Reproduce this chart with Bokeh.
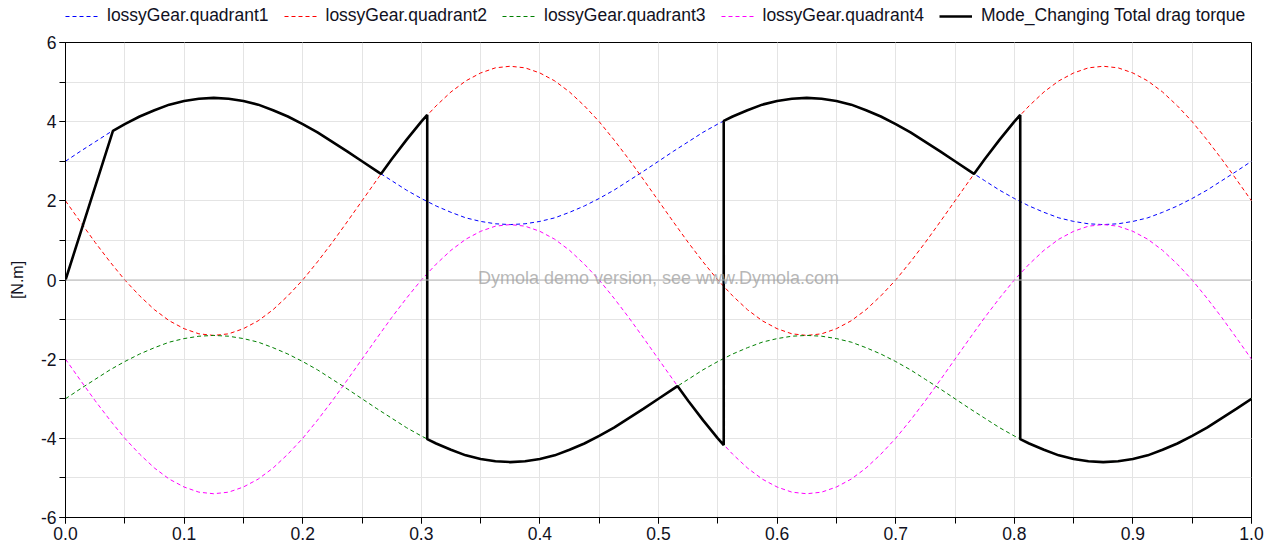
from bokeh.plotting import figure
from bokeh.layouts import column
from bokeh.models import (Range1d, SingleIntervalTicker, PrintfTickFormatter, Legend,
                          LegendItem, Span, Label)
from bokeh.embed import file_html
from bokeh.resources import INLINE

t = [0.0, 0.0125, 0.025, 0.0375, 0.05, 0.0625, 0.075, 0.0875, 0.1, 0.1125,
     0.125, 0.1375, 0.15, 0.1625, 0.175, 0.1875, 0.2, 0.2125, 0.225, 0.2375,
     0.25, 0.2625, 0.275, 0.2875, 0.3, 0.3125, 0.325, 0.3375, 0.35, 0.3625,
     0.375, 0.3875, 0.4, 0.4125, 0.425, 0.4375, 0.45, 0.4625, 0.475, 0.4875,
     0.5, 0.5125, 0.525, 0.5375, 0.55, 0.5625, 0.575, 0.5875, 0.6, 0.6125,
     0.625, 0.6375, 0.65, 0.6625, 0.675, 0.6875, 0.7, 0.7125, 0.725, 0.7375,
     0.75, 0.7625, 0.775, 0.7875, 0.8, 0.8125, 0.825, 0.8375, 0.85, 0.8625,
     0.875, 0.8875, 0.9, 0.9125, 0.925, 0.9375, 0.95, 0.9625, 0.975, 0.9875, 1.0]

quadrant1 = [3.00, 3.25, 3.49, 3.73, 3.94, 4.13, 4.29, 4.43, 4.52, 4.58,
             4.60, 4.58, 4.52, 4.43, 4.29, 4.13, 3.94, 3.73, 3.49, 3.25,
             3.00, 2.75, 2.51, 2.27, 2.06, 1.87, 1.71, 1.57, 1.48, 1.42,
             1.40, 1.42, 1.48, 1.57, 1.71, 1.87, 2.06, 2.27, 2.51, 2.75,
             3.00, 3.25, 3.49, 3.73, 3.94, 4.13, 4.29, 4.43, 4.52, 4.58,
             4.60, 4.58, 4.52, 4.43, 4.29, 4.13, 3.94, 3.73, 3.49, 3.25,
             3.00, 2.75, 2.51, 2.27, 2.06, 1.87, 1.71, 1.57, 1.48, 1.42,
             1.40, 1.42, 1.48, 1.57, 1.71, 1.87, 2.06, 2.27, 2.51, 2.75, 3.00]

quadrant2 = [2.00, 1.47, 0.95, 0.46, 0.00, -0.40, -0.75, -1.03, -1.23, -1.36,
             -1.40, -1.36, -1.23, -1.03, -0.75, -0.40, 0.00, 0.46, 0.95, 1.47,
             2.00, 2.53, 3.05, 3.54, 4.00, 4.40, 4.75, 5.03, 5.23, 5.36,
             5.40, 5.36, 5.23, 5.03, 4.75, 4.40, 4.00, 3.54, 3.05, 2.53,
             2.00, 1.47, 0.95, 0.46, 0.00, -0.40, -0.75, -1.03, -1.23, -1.36,
             -1.40, -1.36, -1.23, -1.03, -0.75, -0.40, 0.00, 0.46, 0.95, 1.47,
             2.00, 2.53, 3.05, 3.54, 4.00, 4.40, 4.75, 5.03, 5.23, 5.36,
             5.40, 5.36, 5.23, 5.03, 4.75, 4.40, 4.00, 3.54, 3.05, 2.53, 2.00]

quadrant3 = [-3.00, -2.75, -2.51, -2.27, -2.06, -1.87, -1.71, -1.57, -1.48, -1.42,
             -1.40, -1.42, -1.48, -1.57, -1.71, -1.87, -2.06, -2.27, -2.51, -2.75,
             -3.00, -3.25, -3.49, -3.73, -3.94, -4.13, -4.29, -4.43, -4.52, -4.58,
             -4.60, -4.58, -4.52, -4.43, -4.29, -4.13, -3.94, -3.73, -3.49, -3.25,
             -3.00, -2.75, -2.51, -2.27, -2.06, -1.87, -1.71, -1.57, -1.48, -1.42,
             -1.40, -1.42, -1.48, -1.57, -1.71, -1.87, -2.06, -2.27, -2.51, -2.75,
             -3.00, -3.25, -3.49, -3.73, -3.94, -4.13, -4.29, -4.43, -4.52, -4.58,
             -4.60, -4.58, -4.52, -4.43, -4.29, -4.13, -3.94, -3.73, -3.49, -3.25, -3.00]

quadrant4 = [-2.00, -2.53, -3.05, -3.54, -4.00, -4.40, -4.75, -5.03, -5.23, -5.36,
             -5.40, -5.36, -5.23, -5.03, -4.75, -4.40, -4.00, -3.54, -3.05, -2.53,
             -2.00, -1.47, -0.95, -0.46, 0.00, 0.40, 0.75, 1.03, 1.23, 1.36,
             1.40, 1.36, 1.23, 1.03, 0.75, 0.40, 0.00, -0.46, -0.95, -1.47,
             -2.00, -2.53, -3.05, -3.54, -4.00, -4.40, -4.75, -5.03, -5.23, -5.36,
             -5.40, -5.36, -5.23, -5.03, -4.75, -4.40, -4.00, -3.54, -3.05, -2.53,
             -2.00, -1.47, -0.95, -0.46, 0.00, 0.40, 0.75, 1.03, 1.23, 1.36,
             1.40, 1.36, 1.23, 1.03, 0.75, 0.40, 0.00, -0.46, -0.95, -1.47, -2.00]

total_t = [0.0, 0.04, 0.05, 0.0625, 0.075, 0.0875, 0.1, 0.1125, 0.125, 0.1375,
           0.15, 0.1625, 0.175, 0.1875, 0.2, 0.2125, 0.225, 0.2375, 0.25, 0.2625,
           0.266, 0.275, 0.2875, 0.3, 0.305, 0.305, 0.3125, 0.325, 0.3375, 0.35,
           0.3625, 0.375, 0.3875, 0.4, 0.4125, 0.425, 0.4375, 0.45, 0.4625, 0.475,
           0.4875, 0.5, 0.5125, 0.516, 0.525, 0.5375, 0.55, 0.555, 0.555, 0.5625,
           0.575, 0.5875, 0.6, 0.6125, 0.625, 0.6375, 0.65, 0.6625, 0.675, 0.6875,
           0.7, 0.7125, 0.725, 0.7375, 0.75, 0.7625, 0.766, 0.775, 0.7875, 0.8,
           0.805, 0.805, 0.8125, 0.825, 0.8375, 0.85, 0.8625, 0.875, 0.8875, 0.9,
           0.9125, 0.925, 0.9375, 0.95, 0.9625, 0.975, 0.9875, 1.0]
total_torque = [0.00, 3.77, 3.94, 4.13, 4.29, 4.43, 4.52, 4.58, 4.60, 4.58,
                4.52, 4.43, 4.29, 4.13, 3.94, 3.73, 3.49, 3.25, 3.00, 2.75,
                2.68, 3.05, 3.54, 4.00, 4.17, -4.02, -4.13, -4.29, -4.43, -4.52,
                -4.58, -4.60, -4.58, -4.52, -4.43, -4.29, -4.13, -3.94, -3.73, -3.49,
                -3.25, -3.00, -2.75, -2.68, -3.05, -3.54, -4.00, -4.17, 4.02, 4.13,
                4.29, 4.43, 4.52, 4.58, 4.60, 4.58, 4.52, 4.43, 4.29, 4.13,
                3.94, 3.73, 3.49, 3.25, 3.00, 2.75, 2.68, 3.05, 3.54, 4.00,
                4.17, -4.02, -4.13, -4.29, -4.43, -4.52, -4.58, -4.60, -4.58, -4.52,
                -4.43, -4.29, -4.13, -3.94, -3.73, -3.49, -3.25, -3.00]

series_labels = ["lossyGear.quadrant1", "lossyGear.quadrant2", "lossyGear.quadrant3",
                 "lossyGear.quadrant4", "Mode_Changing Total drag torque"]
series_colors = ["#0000ff", "#ff0000", "#008000", "#ff00ff", "black"]
y_label = "[N.m]"
watermark = "Dymola demo version, see www.Dymola.com"

FONT = "Liberation Sans"
FRAME_H = 475
LEFT = 65
RIGHT = 14
FRAME_W = 1186
LEG_H = 34
BLACK_W = 2.6

# ---------- main chart ----------
p = figure(frame_width=FRAME_W, frame_height=FRAME_H, output_backend="svg",
           toolbar_location=None, x_range=Range1d(0, 1), y_range=Range1d(-6, 6),
           min_border_left=LEFT, min_border_top=8, min_border_right=RIGHT,
           min_border_bottom=28, background_fill_color="white",
           border_fill_color="white")

p.outline_line_color = "black"
p.outline_line_width = 1

p.xaxis.ticker = SingleIntervalTicker(interval=0.1, num_minor_ticks=2)
p.yaxis.ticker = SingleIntervalTicker(interval=2, num_minor_ticks=2)
p.xaxis.formatter = PrintfTickFormatter(format="%.1f")
p.yaxis.formatter = PrintfTickFormatter(format="%d")

for ax in (p.xaxis, p.yaxis):
    ax.axis_line_color = "black"
    ax.major_tick_line_color = "black"
    ax.minor_tick_line_color = "black"
    ax.major_tick_in = 0
    ax.minor_tick_in = 0
    ax.major_tick_out = 6
    ax.minor_tick_out = 6
    ax.major_label_text_font = FONT
    ax.major_label_text_font_size = "17.5px"
    ax.major_label_text_color = "#111122"
    ax.major_label_standoff = 3

p.yaxis.axis_label = y_label
p.yaxis.axis_label_text_font = FONT
p.yaxis.axis_label_text_font_size = "16px"
p.yaxis.axis_label_text_font_style = "normal"
p.yaxis.axis_label_text_color = "#111122"
p.yaxis.axis_label_standoff = 12

for g in (p.xgrid, p.ygrid):
    g.grid_line_color = "#e4e4e4"
    g.minor_grid_line_color = "#e4e4e4"
    g.grid_line_width = 1
    g.minor_grid_line_width = 1

p.add_layout(Span(location=0, dimension="width", line_color="#b8b8b8", line_width=1.2))

p.add_layout(Label(x=0.5, y=0.05, text=watermark, text_align="center",
                   text_baseline="middle", text_font=FONT, text_font_size="18px",
                   text_color="#a0a0a0", text_alpha=0.75))

series_y = [quadrant1, quadrant2, quadrant3, quadrant4]
for ys, c in zip(series_y, series_colors[:4]):
    p.line(t, ys, line_color=c, line_width=1, line_dash="4 3")
p.line(total_t, total_torque, line_color=series_colors[4], line_width=BLACK_W)

# ---------- legend strip above the chart ----------
# same series drawn into a strip whose y-range holds none of the data, so only
# the legend entries are visible there
lg = figure(width=LEFT + FRAME_W + RIGHT, height=LEG_H, output_backend="svg",
            toolbar_location=None, x_range=Range1d(0, 1), y_range=Range1d(100, 101),
            min_border=0, border_fill_color="white", background_fill_color="white")
lg.axis.visible = False
lg.grid.visible = False
lg.outline_line_color = None

samples = []
for ys, c in zip(series_y, series_colors[:4]):
    samples.append(lg.line(t, ys, line_color=c, line_width=1, line_dash="4 3"))
samples.append(lg.line(total_t, total_torque, line_color=series_colors[4], line_width=BLACK_W))

legend = Legend(items=[LegendItem(label=l, renderers=[r]) for l, r in
                       zip(series_labels, samples)],
                orientation="horizontal", location=(0, LEG_H - 26),
                padding=0, margin=0, spacing=15, glyph_width=33, glyph_height=18,
                label_height=18, label_standoff=9, label_text_font=FONT,
                label_text_font_size="17.5px", label_text_color="#111122",
                border_line_color=None, background_fill_alpha=0)
lg.add_layout(legend, "center")

open("out.html", "w").write(file_html(column(lg, p, spacing=0), INLINE))
